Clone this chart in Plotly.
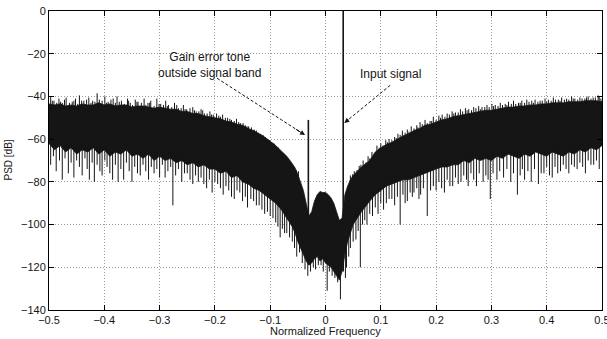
import plotly.graph_objects as go
import numpy as np

# ---- data ----
freq = [-0.50, -0.49, -0.48, -0.47, -0.46, -0.45, -0.44, -0.43, -0.42, -0.41,
        -0.40, -0.39, -0.38, -0.37, -0.36, -0.35, -0.34, -0.33, -0.32, -0.31,
        -0.30, -0.29, -0.28, -0.27, -0.26, -0.25, -0.24, -0.23, -0.22, -0.21,
        -0.20, -0.19, -0.18, -0.17, -0.16, -0.15, -0.14, -0.13, -0.12, -0.11,
        -0.10, -0.09, -0.08, -0.07, -0.06, -0.055, -0.05, -0.045, -0.04, -0.035,
        -0.03, -0.025, -0.02, -0.015, -0.01, -0.005, 0.0, 0.005, 0.01, 0.015,
        0.02, 0.025, 0.03, 0.035, 0.04, 0.045, 0.05, 0.055, 0.06, 0.065,
        0.07, 0.08, 0.09, 0.10, 0.11, 0.12, 0.13, 0.14, 0.15, 0.16,
        0.17, 0.18, 0.19, 0.20, 0.21, 0.22, 0.23, 0.24, 0.25, 0.26,
        0.27, 0.28, 0.29, 0.30, 0.31, 0.32, 0.33, 0.34, 0.35, 0.36,
        0.37, 0.38, 0.39, 0.40, 0.41, 0.42, 0.43, 0.44, 0.45, 0.46,
        0.47, 0.48, 0.49, 0.50]

psd_upper = [-43.5, -44, -43.5, -44.5, -44, -44.5, -43.5, -44, -44, -43,
             -44, -43.5, -44.5, -44, -44, -45, -44.5, -44.5, -45, -45.5,
             -45, -45.5, -46, -46, -47, -47, -48, -48, -49, -49.5,
             -50, -50.5, -51.5, -52, -53, -53.5, -55, -56, -57.5, -59,
             -61, -63, -65.5, -68, -71.5, -73.5, -76.5, -80, -84, -90,
             -96, -94, -89, -86, -84.5, -85, -85, -86, -87.5, -90,
             -94, -98, -97, -86, -82, -79, -77, -75.5, -74, -73,
             -72, -70, -66, -64, -62.5, -61.5, -60, -58.5, -57.5, -56,
             -55, -53.5, -53, -52, -51, -50.5, -49.5, -49, -48.5, -48,
             -47.5, -47, -46.5, -46.5, -46, -45.5, -45, -45, -44.5, -44.5,
             -44, -44, -43.5, -43.5, -43, -43, -43, -42.5, -42.5, -42.5,
             -42, -42, -42, -42.5]

psd_lower = [-62, -65, -63, -66, -64, -67, -65, -66, -64, -67,
             -65, -68, -66, -67, -65, -68, -67, -69, -67, -70,
             -68, -70, -69, -71, -70, -72, -71, -73, -72, -74,
             -74, -76, -75, -78, -77, -80, -81, -83, -84, -86,
             -88, -90, -93, -97, -101, -104, -108, -111, -114, -117,
             -119, -118, -116, -115, -117, -116, -118, -119, -120, -122,
             -124, -126, -122, -114, -108, -104, -100, -98, -96, -94,
             -92, -89, -86, -84, -82, -81, -80, -79, -79, -78,
             -77, -76, -75, -74, -73, -73, -72, -72, -70, -71,
             -69, -70, -69, -70, -68, -69, -67, -68, -69, -67,
             -68, -66, -67, -68, -66, -67, -68, -66, -67, -65,
             -66, -64, -65, -63]

peak_freq = [-0.497, -0.491, -0.482, -0.476, -0.469, -0.458, -0.452, -0.445, -0.437, -0.428,
             -0.421, -0.413, -0.409, -0.399, -0.393, -0.384, -0.377, -0.369, -0.358, -0.353,
             -0.344, -0.339, -0.328, -0.321, -0.316, -0.305, -0.298, -0.289, -0.284, -0.273,
             -0.266, -0.257, -0.251, -0.240, -0.234, -0.225, -0.219, -0.209, -0.203, -0.193,
             -0.186, -0.177, -0.170, -0.161, -0.154, -0.145, -0.139, -0.129, -0.121, -0.113,
             -0.106, -0.097, -0.089, -0.081, -0.073, -0.065, -0.057, -0.049,
             0.045, 0.052, 0.061, 0.068, 0.077, 0.084, 0.093, 0.100, 0.109, 0.115,
             0.125, 0.131, 0.139, 0.148, 0.155, 0.165, 0.171, 0.180, 0.189, 0.195,
             0.205, 0.211, 0.220, 0.229, 0.235, 0.244, 0.253, 0.259, 0.268, 0.277,
             0.283, 0.292, 0.301, 0.307, 0.316, 0.325, 0.331, 0.340, 0.349, 0.355,
             0.364, 0.373, 0.379, 0.388, 0.397, 0.403, 0.412, 0.421, 0.427, 0.436,
             0.445, 0.451, 0.460, 0.469, 0.475, 0.484, 0.493, 0.498,
             -0.494, -0.486, -0.479, -0.472, -0.463, -0.455, -0.448, -0.441, -0.432, -0.424,
             -0.417, -0.404, -0.396, -0.388, -0.380, -0.373, -0.364, -0.356, -0.349, -0.341,
             -0.333, -0.325, -0.318, -0.310, -0.301, -0.293, -0.286, -0.278, -0.269, -0.261,
             -0.254, -0.245, -0.237, -0.229, -0.222, -0.214, -0.206, -0.197, -0.190, -0.181,
             -0.173, -0.165, -0.157, -0.149, -0.142, -0.134, -0.125, -0.117, -0.109, -0.101,
             -0.093, -0.085, -0.077, -0.069, -0.061, -0.053,
             0.049, 0.057, 0.064, 0.073, 0.080, 0.088, 0.097, 0.104, 0.112, 0.120,
             0.128, 0.135, 0.144, 0.151, 0.160, 0.167, 0.175, 0.184, 0.192, 0.200,
             0.208, 0.216, 0.224, 0.232, 0.240, 0.248, 0.256, 0.264, 0.272, 0.280,
             0.288, 0.296, 0.304, 0.312, 0.320, 0.328, 0.336, 0.344, 0.352, 0.360,
             0.368, 0.376, 0.384, 0.392, 0.400, 0.408, 0.416, 0.424, 0.432, 0.440,
             0.448, 0.456, 0.464, 0.472, 0.480, 0.488, 0.495]
peak_level = [-40, -42, -41, -43, -40.5, -42.5, -41, -39.5, -42, -40.5,
              -42, -38.5, -41.5, -40, -42.5, -41, -40, -42, -41, -43,
              -41.5, -42.5, -41, -43, -42, -41, -43.5, -42, -44, -43,
              -45.5, -44, -46, -45, -47, -46, -48, -47, -48.5, -49,
              -48.5, -50, -51, -50.5, -52.5, -53.5, -54, -55.5, -57, -58,
              -60, -61.5, -63.5, -66, -69, -71.5, -73, -75,
              -77, -75, -72.5, -70, -68, -66, -63, -62, -60.5, -60,
              -59, -57.5, -56, -55.5, -54, -53.5, -52, -51, -51.5, -49.5,
              -49, -48.5, -48, -47, -47.5, -46, -45.5, -46, -45, -44.5,
              -45, -44, -43.5, -44, -43, -43.5, -42.5, -42, -43, -42,
              -41.5, -42, -41.5, -42, -41, -41.5, -40.5, -41.5, -40.5, -41,
              -40, -41, -40.5, -41, -40, -40.5, -39.5, -41,
              -42, -43, -42.5, -41.5, -43, -42, -43.5, -42, -41.5, -43,
              -42.5, -42, -43, -41.5, -43, -42.5, -43.5, -42, -44, -42.5,
              -43, -44, -43, -44.5, -43.5, -44, -44.5, -45, -44, -45.5,
              -46, -45.5, -46.5, -47, -46.5, -48, -48.5, -48, -49.5, -50,
              -50.5, -51.5, -52, -52.5, -54, -54.5, -56, -57.5, -59, -60.5,
              -62, -64, -66.5, -69, -72, -74.5,
              -76.5, -74.5, -72, -71, -69, -67, -64, -63, -61.5, -60.5,
              -59.5, -58, -57, -56.5, -55, -54.5, -53, -52.5, -51.5, -51,
              -50, -49.5, -48.5, -48, -47.5, -47, -46.5, -46.5, -45.5, -46,
              -45, -45, -44.5, -44.5, -44, -44, -43.5, -43.5, -43, -43,
              -42.5, -43, -42.5, -42, -42.5, -42, -41.5, -42, -41.5, -41.5,
              -41, -41.5, -41, -40.5, -41, -40.5, -40]

spike_freq = [-0.497, -0.492, -0.487, -0.481, -0.476, -0.471, -0.465, -0.460, -0.455, -0.450,
              -0.445, -0.440, -0.435, -0.431, -0.427, -0.422, -0.418, -0.413, -0.408, -0.404,
              -0.399, -0.395, -0.390, -0.385, -0.380, -0.375, -0.370, -0.365, -0.360, -0.355,
              -0.350, -0.345, -0.340, -0.335, -0.330, -0.325, -0.320, -0.315, -0.310, -0.305,
              -0.300, -0.295, -0.290, -0.285, -0.280, -0.276, -0.271, -0.266, -0.260, -0.255,
              -0.250, -0.245, -0.240, -0.235, -0.230, -0.225, -0.220, -0.215, -0.210, -0.205,
              -0.200, -0.195, -0.190, -0.185, -0.180, -0.175, -0.170, -0.165, -0.160, -0.155,
              -0.150, -0.145, -0.141, -0.135, -0.130, -0.125, -0.120, -0.115, -0.110, -0.105,
              -0.100, -0.095, -0.090, -0.086, -0.082, -0.078, -0.074, -0.070, -0.065, -0.060,
              -0.056, -0.052, -0.047, -0.042, -0.037, -0.032, -0.027, -0.022, -0.018, -0.013,
              -0.008, -0.004, 0.003, 0.007, 0.012, 0.017, 0.022, 0.027, 0.036, 0.038,
              0.042, 0.045, 0.050, 0.055, 0.059, 0.063, 0.067, 0.071, 0.075, 0.080,
              0.085, 0.090, 0.095, 0.100, 0.105, 0.110, 0.115, 0.120, 0.125, 0.130,
              0.135, 0.140, 0.144, 0.148, 0.153, 0.157, 0.160, 0.165, 0.169, 0.172,
              0.177, 0.184, 0.190, 0.195, 0.200, 0.205, 0.210, 0.215, 0.220, 0.225,
              0.230, 0.235, 0.240, 0.245, 0.250, 0.255, 0.258, 0.263, 0.268, 0.273,
              0.278, 0.285, 0.290, 0.294, 0.298, 0.303, 0.310, 0.315, 0.322, 0.328,
              0.335, 0.340, 0.347, 0.352, 0.356, 0.360, 0.366, 0.372, 0.378, 0.385,
              0.390, 0.395, 0.400, 0.405, 0.410, 0.415, 0.420, 0.425, 0.430, 0.435,
              0.440, 0.445, 0.450, 0.455, 0.460, 0.465, 0.470, 0.475, 0.480, 0.485,
              0.490, 0.495]
spike_depth = [-72, -68, -75, -70, -79, -69, -76, -71, -78, -70,
               -73, -77, -69, -74, -79, -71, -80, -72, -75, -77,
               -70, -73, -76, -79, -72, -80, -74, -79, -71, -75,
               -80, -73, -76, -77, -72, -75, -79, -73, -76, -74,
               -78, -72, -78, -75, -73, -91, -77, -74, -80, -76,
               -76, -79, -81, -77, -80, -78, -81, -83, -79, -85,
               -80, -81, -83, -86, -82, -84, -87, -88, -84, -85,
               -89, -87, -92, -88, -89, -91, -91, -93, -95, -94,
               -96, -97, -99, -101, -106, -102, -104, -104, -106, -108,
               -111, -115, -113, -118, -121, -124, -122, -120, -121, -119,
               -119, -122, -131, -122, -124, -125, -127, -135, -125, -120,
               -115, -111, -108, -107, -103, -120, -100, -98, -100, -95,
               -96, -92, -95, -90, -93, -90, -88, -88, -91, -87,
               -100, -86, -90, -89, -85, -87, -85, -83, -88, -86,
               -83, -96, -84, -82, -84, -80, -83, -85, -79, -82,
               -82, -78, -81, -80, -77, -79, -82, -76, -79, -82,
               -76, -80, -77, -79, -88, -76, -79, -75, -78, -74,
               -80, -76, -86, -77, -74, -79, -75, -80, -74, -81,
               -76, -76, -73, -77, -78, -73, -76, -75, -72, -74,
               -76, -72, -73, -74, -71, -73, -76, -70, -72, -72,
               -70, -74]

tone_freq = [-0.031, 0.032]
tone_level = [-51, 0]
tone_floor = [-118, -122]

x_ticks = [-0.5, -0.4, -0.3, -0.2, -0.1, 0, 0.1, 0.2, 0.3, 0.4, 0.5]
x_labels = ["\u22120.5", "\u22120.4", "\u22120.3", "\u22120.2", "\u22120.1", "0",
            "0.1", "0.2", "0.3", "0.4", "0.5"]
y_ticks = [0, -20, -40, -60, -80, -100, -120, -140]
y_labels = ["0", "\u221220", "\u221240", "\u221260", "\u221280", "\u2212100",
            "\u2212120", "\u2212140"]

# ---- figure ----
FONT = "Liberation Sans, Arial, Helvetica, sans-serif"
INK = "#151515"

fig = go.Figure()

# dense noise band
fig.add_trace(go.Scatter(
    x=freq + freq[::-1], y=psd_upper + psd_lower[::-1],
    mode="lines", fill="toself", fillcolor=INK,
    line=dict(color=INK, width=0.8), hoverinfo="skip", showlegend=False))

# upward peaks on the top edge
px, py = [], []
for f, p in zip(peak_freq, peak_level):
    base = float(np.interp(f, freq, psd_upper)) - 2
    px += [f, f, None]
    py += [base, p, None]
fig.add_trace(go.Scatter(x=px, y=py, mode="lines",
                         line=dict(color=INK, width=1.0),
                         hoverinfo="skip", showlegend=False))

# downward spikes
sx, sy = [], []
for f, d in zip(spike_freq, spike_depth):
    top = float(np.interp(f, freq, psd_lower)) + 3
    sx += [f, f, None]
    sy += [top, d, None]
fig.add_trace(go.Scatter(x=sx, y=sy, mode="lines",
                         line=dict(color=INK, width=1.0),
                         hoverinfo="skip", showlegend=False))

# tones
tx, ty = [], []
for f, lv, fl in zip(tone_freq, tone_level, tone_floor):
    tx += [f, f, None]
    ty += [fl, lv, None]
fig.add_trace(go.Scatter(x=tx, y=ty, mode="lines",
                         line=dict(color=INK, width=1.6),
                         hoverinfo="skip", showlegend=False))

# dashed arrows (line + head)
arrows = [((-0.196, -31.5), (-0.037, -58.1)),
          ((0.117, -34.8), (0.034, -52.4))]
for (x0, y0), (x1, y1) in arrows:
    fig.add_shape(type="line", x0=x0, y0=y0, x1=x1, y1=y1, xref="x", yref="y",
                  line=dict(color=INK, width=1, dash="3px,2px"))
    fig.add_annotation(x=x1, y=y1, ax=x1 + (x0 - x1) * 0.12, ay=y1 + (y0 - y1) * 0.12,
                       xref="x", yref="y", axref="x", ayref="y", text="",
                       showarrow=True, arrowhead=2, arrowsize=1, arrowwidth=1,
                       arrowcolor=INK, standoff=0)

fig.add_annotation(x=-0.209, y=-25.4, xref="x", yref="y",
                   text="Gain error tone<br>outside signal band", showarrow=False,
                   font=dict(family=FONT, size=12, color=INK), align="center")
fig.add_annotation(x=0.117, y=-29.6, xref="x", yref="y",
                   text="Input signal", showarrow=False,
                   font=dict(family=FONT, size=12, color=INK), align="center")

# axis titles
fig.add_annotation(x=0.5, y=0, xref="paper", yref="paper", yshift=-21,
                   xanchor="center", yanchor="middle", showarrow=False,
                   text="Normalized Frequency",
                   font=dict(family=FONT, size=11, color=INK))
fig.add_annotation(x=0, y=0.5, xref="paper", yref="paper", xshift=-41,
                   xanchor="center", yanchor="middle", showarrow=False,
                   text="PSD [dB]", textangle=-90,
                   font=dict(family=FONT, size=10, color=INK))

axis_common = dict(showline=True, linecolor="black", linewidth=1, mirror="ticks",
                   ticks="inside", ticklen=5, tickcolor="black",
                   showgrid=True, gridcolor="#9a9a9a", griddash="1px,2px", gridwidth=1,
                   zeroline=False, automargin=False, ticklabeloverflow="allow",
                   tickfont=dict(family=FONT, size=11, color=INK))

fig.update_xaxes(range=[-0.5, 0.5], tickvals=x_ticks, ticktext=x_labels, **axis_common)
fig.update_yaxes(range=[-140, 0], tickvals=y_ticks, ticktext=y_labels, **axis_common)

fig.update_layout(width=607, height=339,
                  margin=dict(l=49, r=5, t=11, b=29),
                  paper_bgcolor="white", plot_bgcolor="white",
                  showlegend=False)

# remove the default 8px page margin so the figure fills the window exactly
fig.write_html("out.html", config={"displayModeBar": False},
               post_script="document.body.style.margin='0';document.body.style.overflow='hidden';")
